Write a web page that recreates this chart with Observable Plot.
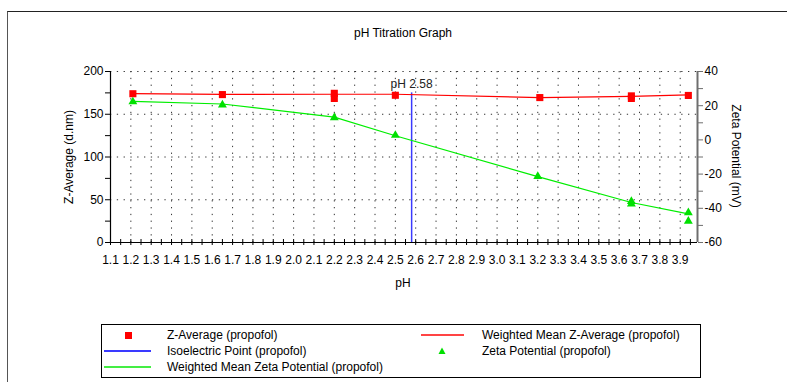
<!DOCTYPE html>
<html><head><meta charset="utf-8">
<script src="https://cdn.jsdelivr.net/npm/d3@7"></script>
<script src="https://cdn.jsdelivr.net/npm/@observablehq/plot@0.6"></script>
<style>
body{margin:0;background:#fff;font-family:"Liberation Sans",Arial,sans-serif;}
#wrap{position:relative;width:787px;height:382px;overflow:hidden;}
.abs{position:absolute;font-size:12px;color:#000;white-space:nowrap;line-height:14px;}
</style></head><body><div id="wrap"></div>
<script>
// ---- data ----
const zAvgPH   = [1.21, 1.65, 2.20, 2.20, 2.50, 3.21, 3.66, 3.66, 3.94];
const zAvgVal  = [174, 173, 174.5, 168.5, 172.2, 169.5, 171.5, 168.5, 172];
const zMeanPH  = [1.21, 1.65, 2.20, 2.50, 3.21, 3.66, 3.94];
const zMeanVal = [174.1, 173.2, 173.4, 173.4, 169.5, 171, 172.6];
const zetaPH   = [1.21, 1.65, 2.20, 2.50, 3.20, 3.66, 3.66, 3.94, 3.94];
const zetaVal  = [22.3, 20.5, 13, 2.7, -21.3, -36, -37.5, -42.6, -47.5];
const zetaMeanPH  = [1.21, 1.65, 2.20, 2.50, 3.20, 3.66, 3.94];
const zetaMeanVal = [22.5, 21, 13.3, 2.4, -21.5, -36.6, -43.3];
const isoPH = 2.58;
const isoLabel = "pH 2.58";
const isoTopZ = 175;
const xDomain = [1.1, 3.985];
const leftTicks = [0, 50, 100, 150, 200];
const leftMinor = [25, 75, 125, 175];
const rightTicks = [-60, -40, -20, 0, 20, 40];
const rightMinor = [-50, -30, -10, 10, 30];
const xLabelTicks = d3.range(11, 40).map(d => d / 10);
const xMinorTicks = d3.range(22, 80).map(d => d / 20);
const gridX = d3.range(12, 40).map(d => d / 10);
const gridY = [50, 100, 150, 200];

// right (zeta) axis shares the frame with the left axis: -60..40 <-> 0..200
const toLeft = z => (z + 60) * 2;

const zAvg = zAvgPH.map((p, i) => ({pH: p, v: zAvgVal[i]}));
const zMean = zMeanPH.map((p, i) => ({pH: p, v: zMeanVal[i]}));
const zeta = zetaPH.map((p, i) => ({pH: p, v: toLeft(zetaVal[i])}));
const zetaMean = zetaMeanPH.map((p, i) => ({pH: p, v: toLeft(zetaMeanVal[i])}));

const dash = {stroke: "#333", strokeWidth: 1, strokeDasharray: "1.3,5.5"};

const chart = Plot.plot({
  width: 787, height: 382,
  marginLeft: 110, marginRight: 90, marginTop: 71, marginBottom: 140,
  style: {fontFamily: "'Liberation Sans', Arial, sans-serif", fontSize: "12px", background: "transparent", color: "#000"},
  x: {domain: xDomain},
  y: {domain: [0, 200]},
  marks: [
    Plot.ruleX(gridX, dash),
    Plot.ruleY(gridY, dash),
    Plot.ruleX([xDomain[0]], {stroke: "#000", strokeWidth: 1.2}),
    Plot.ruleX([xDomain[1]], {stroke: "#6e6e6e", strokeWidth: 2}),
    Plot.ruleY([0], {stroke: "#000", strokeWidth: 1.2}),
    Plot.ruleX(xMinorTicks, {y1: 0, y2: 0, insetTop: -3, insetBottom: -3, stroke: "#000"}),
    Plot.axisX({ticks: xLabelTicks, tickSize: 0, tickPadding: 13, tickFormat: d3.format(".1f"), label: null, fontSize: 12}),
    Plot.axisY({ticks: leftTicks, tickSize: 5, tickPadding: 2, label: null, fontSize: 12}),
    Plot.axisY({ticks: leftMinor, tickSize: 5, tickFormat: () => "", label: null}),
    Plot.axisY({anchor: "right", ticks: rightTicks.map(toLeft), tickSize: 5, tickPadding: 2,
      tickFormat: v => String(v / 2 - 60), stroke: "#6e6e6e", label: null, fontSize: 12}),
    Plot.axisY({anchor: "right", ticks: rightMinor.map(toLeft), tickSize: 5, tickFormat: () => "",
      stroke: "#6e6e6e", label: null}),
    Plot.ruleX([isoPH], {y1: 0, y2: isoTopZ, stroke: "#3a3aff", strokeWidth: 1.5}),
    Plot.text([isoLabel], {x: isoPH, y: isoTopZ, dy: -9, text: d => d, fontSize: 12, fill: "#222"}),
    Plot.line(zMean, {x: "pH", y: "v", stroke: "#ff0000", strokeWidth: 1.2}),
    Plot.line(zetaMean, {x: "pH", y: "v", stroke: "#00ee00", strokeWidth: 1.2}),
    Plot.dot(zAvg, {x: "pH", y: "v", symbol: "square", r: 4, fill: "#ff0000"}),
    Plot.dot(zeta, {x: "pH", y: "v", symbol: "triangle", r: 3.3, fill: "#00e000"})
  ]
});
const wrap = document.getElementById("wrap");
wrap.appendChild(chart);

function add(html) { wrap.insertAdjacentHTML("beforeend", html); }
// frame
add('<div style="position:absolute;left:7px;top:11px;width:900px;height:500px;border-top:1.5px solid #222;border-left:1.5px solid #555;"></div>');
// title and axis labels
add('<div class="abs" style="left:403px;top:33px;transform:translate(-50%,-50%);">pH Titration Graph</div>');
add('<div class="abs" style="left:403px;top:283px;transform:translate(-50%,-50%);">pH</div>');
add('<div class="abs" style="left:69px;top:157px;transform:translate(-50%,-50%) rotate(-90deg);">Z-Average (d.nm)</div>');
add('<div class="abs" style="left:736px;top:156px;transform:translate(-50%,-50%) rotate(90deg);">Zeta Potential (mV)</div>');
// legend
add('<div style="position:absolute;left:101px;top:324px;width:598px;height:52px;border:1px solid #000;"></div>');
const legend = [
  {label: "Z-Average (propofol)", kind: "square", color: "#ff0000", sx: 128, tx: 167, y: 335},
  {label: "Isoelectric Point (propofol)", kind: "line", color: "#3a3aff", sx: 104, sw: 47, tx: 167, y: 351},
  {label: "Weighted Mean Zeta Potential (propofol)", kind: "line", color: "#44ee44", sx: 104, sw: 47, tx: 167, y: 367},
  {label: "Weighted Mean Z-Average (propofol)", kind: "line", color: "#ff4444", sx: 421, sw: 43, tx: 482, y: 335},
  {label: "Zeta Potential (propofol)", kind: "triangle", color: "#00e000", sx: 442, tx: 482, y: 351}
];
for (const e of legend) {
  if (e.kind === "square") add(`<div style="position:absolute;left:${e.sx-3.5}px;top:${e.y-3.5}px;width:7px;height:7px;background:${e.color}"></div>`);
  if (e.kind === "line") add(`<div style="position:absolute;left:${e.sx}px;top:${e.y-1}px;width:${e.sw}px;height:2px;background:${e.color}"></div>`);
  if (e.kind === "triangle") add(`<svg style="position:absolute;left:${e.sx-4}px;top:${e.y-4}px" width="8" height="8"><polygon points="4,0.5 7.5,7 0.5,7" fill="${e.color}"/></svg>`);
  add(`<div class="abs" style="left:${e.tx}px;top:${e.y}px;transform:translateY(-50%);">${e.label}</div>`);
}
</script></body></html>
